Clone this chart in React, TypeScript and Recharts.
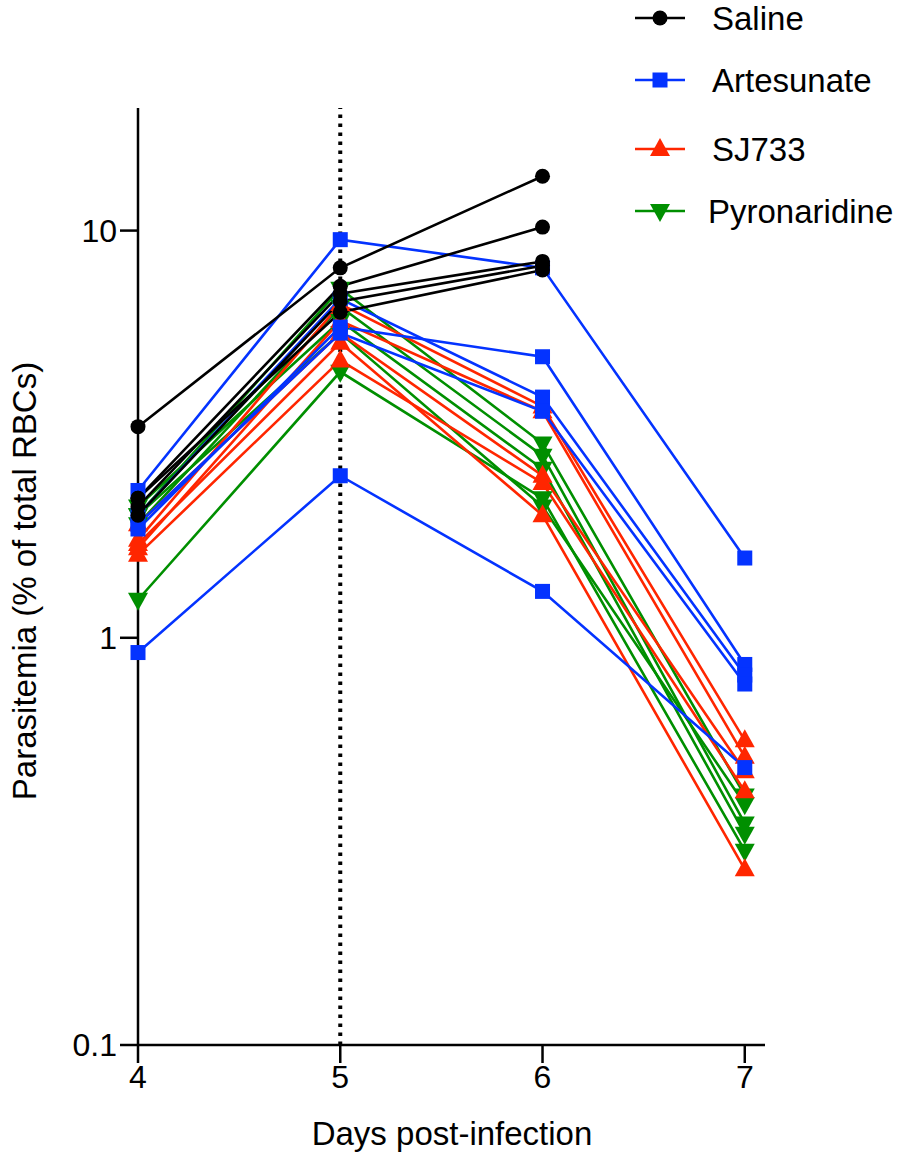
import { LineChart, Line, XAxis, YAxis, ReferenceLine, Label } from 'recharts';

const DAYS = [4, 5, 6, 7];
const X_TICKS = [4, 5, 6, 7];
const Y_TICKS = [0.1, 1, 10];

// one row per mouse, values by day
const SALINE = [
  [3.3, 8.1, 13.6],
  [2.2, 7.3, 10.2],
  [2.1, 7.0, 8.4],
  [2.0, 6.7, 8.2],
  [2.2, 6.3, 8.0],
];
const ARTESUNATE = [
  [2.3, 9.5, 8.1, 1.57],
  [1.85, 5.8, 4.9, 0.86],
  [2.0, 6.8, 3.9, 0.81],
  [1.9, 5.6, 3.6, 0.77],
  [0.92, 2.5, 1.3, 0.48],
];
const SJ733 = [
  [1.74, 6.6, 3.7, 0.56],
  [1.66, 6.0, 3.6, 0.51],
  [1.9, 5.6, 2.5, 0.47],
  [1.6, 4.8, 2.4, 0.42],
  [1.7, 5.3, 2.0, 0.27],
];
const PYRONARIDINE = [
  [2.0, 7.2, 3.0, 0.41],
  [1.9, 6.5, 2.8, 0.35],
  [2.1, 6.0, 2.6, 0.33],
  [1.24, 4.5, 2.2, 0.3],
  [2.0, 5.6, 2.1, 0.39],
];

const GROUPS = [
  { name: 'Saline', color: '#000000', shape: 'circle', rows: SALINE },
  { name: 'Artesunate', color: '#0433FF', shape: 'square', rows: ARTESUNATE },
  { name: 'SJ733', color: '#FF2600', shape: 'triangle', rows: SJ733 },
  { name: 'Pyronaridine', color: '#008F00', shape: 'down', rows: PYRONARIDINE },
];
// draw order: green at the bottom, black on top
const DRAW_ORDER = ['Pyronaridine', 'SJ733', 'Artesunate', 'Saline'];

const FONT = '"Liberation Sans", Arial, sans-serif';

const Marker = ({ cx, cy, shape, color }: any) => {
  if (cx == null || cy == null) return null;
  if (shape === 'circle') return <circle cx={cx} cy={cy} r={7.5} fill={color} />;
  if (shape === 'square')
    return <rect x={cx - 7.5} y={cy - 7.5} width={15} height={15} fill={color} />;
  if (shape === 'triangle')
    return <polygon points={`${cx},${cy - 11} ${cx - 10},${cy + 7} ${cx + 10},${cy + 7}`} fill={color} />;
  return <polygon points={`${cx},${cy + 11} ${cx - 10},${cy - 7} ${cx + 10},${cy - 7}`} fill={color} />;
};

const LegendBox = () => {
  const ys = [18, 80, 149, 211];
  return (
    <svg width={280} height={240} style={{ position: 'absolute', left: 620, top: 0 }}>
      {GROUPS.map((g, i) => (
        <g key={g.name}>
          <line x1={15} x2={65} y1={ys[i]} y2={ys[i]} stroke={g.color} strokeWidth={2.5} />
          <Marker cx={40} cy={ys[i]} shape={g.shape} color={g.color} />
          <text
            x={i === 3 ? 88 : 92}
            y={ys[i]}
            dy="0.36em"
            fontSize={33}
            fontFamily={FONT}
            fill="#000"
          >
            {g.name}
          </text>
        </g>
      ))}
    </svg>
  );
};

export default function App() {
  const groups = DRAW_ORDER.map((n) => GROUPS.find((g) => g.name === n)!);
  return (
    <div style={{ position: 'absolute', left: 0, top: 0, width: 898, height: 1157, background: '#fff' }}>
      <LineChart
        width={898}
        height={1157}
        margin={{ top: 108, right: 133, bottom: 52, left: 0 }}
      >
        <XAxis
          dataKey="day"
          type="number"
          domain={[4, 7.1]}
          ticks={X_TICKS}
          allowDuplicatedCategory={false}
          height={60}
          stroke="#000"
          strokeWidth={2.5}
          tickSize={18}
          tick={{ fontSize: 32, fill: '#000', fontFamily: FONT }}
          tickMargin={2}
        >
          <Label
            content={() => (
              <text x={452} y={1145} textAnchor="middle" fontSize={33} fontFamily={FONT} fill="#000">
                Days post-infection
              </text>
            )}
          />
        </XAxis>
        <YAxis
          dataKey="v"
          scale="log"
          type="number"
          domain={[0.1, 20]}
          ticks={Y_TICKS}
          allowDataOverflow
          width={138}
          stroke="#000"
          strokeWidth={2.5}
          tickSize={18}
          tickMargin={3}
          tick={{ fontSize: 32, fill: '#000', fontFamily: FONT }}
          tickFormatter={(v) => String(v)}
        >
          <Label
            content={() => (
              <text
                x={36}
                y={581}
                transform="rotate(-90 36 581)"
                textAnchor="middle"
                fontSize={33}
                fontFamily={FONT}
                fill="#000"
              >
                Parasitemia (% of total RBCs)
              </text>
            )}
          />
        </YAxis>
        <ReferenceLine
          x={5}
          stroke="#000"
          strokeWidth={4}
          strokeDasharray="3.5 5.5"
        />
        {groups.map((g) =>
          g.rows.map((row, i) => (
            <Line
              key={`${g.name}-${i}`}
              data={row.map((v, j) => ({ day: DAYS[j], v }))}
              dataKey="v"
              type="linear"
              stroke={g.color}
              strokeWidth={2.6}
              isAnimationActive={false}
              dot={(p: any) => <Marker key={`${g.name}-${i}-${p.index}`} cx={p.cx} cy={p.cy} shape={g.shape} color={g.color} />}
              activeDot={false}
              legendType="none"
            />
          ))
        )}
      </LineChart>
      <LegendBox />
    </div>
  );
}
